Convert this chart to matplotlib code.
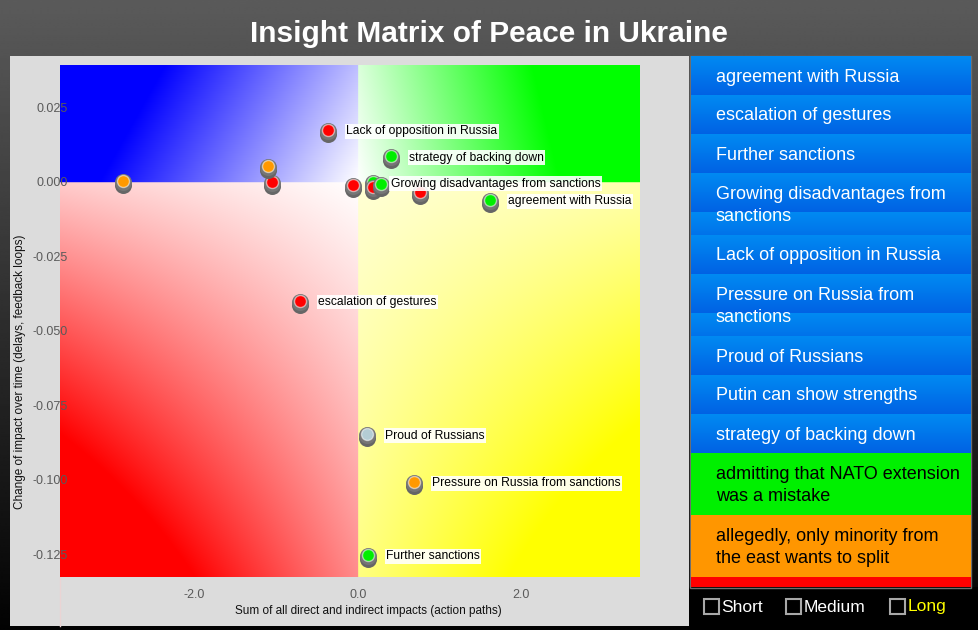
import numpy as np
import matplotlib
matplotlib.use("Agg")
import matplotlib.pyplot as plt
from matplotlib.transforms import offset_copy
from matplotlib.patches import Rectangle
from matplotlib.lines import Line2D

plt.rcParams['font.family'] = ['Liberation Sans', 'DejaVu Sans']
plt.rcParams['axes.unicode_minus'] = False

W, H = 979, 630

# ---------------- data ----------------
title = "Insight Matrix of Peace in Ukraine"
x_label = "Sum of all direct and indirect impacts (action paths)"
y_label = "Change of impact over time (delays, feedback loops)"

pt_x = [-2.878, -1.056, -1.097, -0.065, 0.180, 0.187, 0.278, 0.758,
        -0.363, 0.404, 1.615, -0.709, 0.110, 0.685, 0.122]
pt_y = [0.0002, -0.0002, 0.0053, -0.0010, -0.0002, -0.0017, -0.0008, -0.0034,
        0.0174, 0.0086, -0.0061, -0.0399, -0.0848, -0.1007, -0.1253]
pt_color = ['#ff9900', '#ff0000', '#ff9900', '#ff0000', '#00ee00', '#ff0000', '#00ee00', '#ff0000',
            '#ff0000', '#00ee00', '#00ee00', '#ff0000', '#b4ccd4', '#ff9900', '#00ee00']
pt_label = ["", "", "", "", "Growing disadvantages from sanctions", "", "", "",
            "Lack of opposition in Russia", "strategy of backing down", "agreement with Russia",
            "escalation of gestures", "Proud of Russians", "Pressure on Russia from sanctions",
            "Further sanctions"]

x_ticks = [-2.0, 0.0, 2.0]
x_tick_labels = ["-2.0", "0.0", "2.0"]
y_ticks = [0.025, 0.0, -0.025, -0.05, -0.075, -0.1, -0.125]
y_tick_labels = ["0.025", "0.000", "-0.025", "-0.050", "-0.075", "-0.100", "-0.125"]
x_range = (-3.645, 3.45)
y_range = (-0.1327, 0.0392)

legend_items = ["agreement with Russia", "escalation of gestures", "Further sanctions",
                "Growing disadvantages from\nsanctions", "Lack of opposition in Russia",
                "Pressure on Russia from\nsanctions", "Proud of Russians",
                "Putin can show strengths", "strategy of backing down",
                "admitting that NATO extension\nwas a mistake",
                "allegedly, only minority from\nthe east wants to split", "\n"]
legend_kinds = ['blue'] * 9 + ['green', 'orange', 'red']
checkbox_labels = ["Short", "Medium", "Long"]
checkbox_colors = ["white", "white", "#ffff00"]

# ---------------- figure ----------------
fig = plt.figure(figsize=(W / 100, H / 100), dpi=100)

bg = fig.add_axes([0, 0, 1, 1])
bg.set_zorder(0)
bg.set_xlim(0, W)
bg.set_ylim(H, 0)
bg.axis('off')
g = np.linspace(0.355, 0.01, 300)
bg.imshow(np.repeat(g[:, None], 2, axis=1), cmap='gray', vmin=0, vmax=1,
          extent=[0, W, H, 0], aspect='auto', interpolation='bilinear')
bg.add_patch(Rectangle((10, 56), 679, 570, facecolor='#dcdcdc', edgecolor='none'))
bg.add_line(Line2D([60, 60], [577, 626], color='#ead4d4', lw=1))
bg.text(489, 34, title, color='white', fontsize=21.5, fontweight='bold',
        ha='center', va='center')
bg.text(368, 611, x_label, fontsize=8.5, color='#111111', ha='center', va='center')
bg.text(20, 372, y_label, fontsize=8.5, color='#111111', ha='center', va='center',
        rotation=90)

# ---------------- main matrix ----------------
ax = fig.add_axes([60 / W, 1 - 577 / H, 580 / W, 512 / H])
ax.set_zorder(1)
xmin, xmax = x_range
ymin, ymax = y_range
nx, ny = 500, 450
X, Y = np.meshgrid(np.linspace(xmin, xmax, nx), np.linspace(ymax, ymin, ny))
img = np.ones((ny, nx, 3))
# blue (top-left)
m = (X < 0) & (Y >= 0)
u = X / xmin; v = Y / ymax
t = np.clip((u + 0.22 * v) / 0.87, 0, 1)
img[..., 0] = np.where(m, 1 - t, img[..., 0]); img[..., 1] = np.where(m, 1 - t, img[..., 1])
# green (top-right)
m = (X >= 0) & (Y >= 0)
u = X / xmax; v = Y / ymax
t = np.clip((u + 0.1 * v) / 0.72, 0, 1)
img[..., 0] = np.where(m, 1 - t, img[..., 0]); img[..., 2] = np.where(m, 1 - t, img[..., 2])
# red (bottom-left)
m = (X < 0) & (Y < 0)
u = X / xmin; v = Y / ymin
t = np.clip(0.2 * u + v * (0.45 + 0.8 * u), 0, 1)
img[..., 1] = np.where(m, 1 - t, img[..., 1]); img[..., 2] = np.where(m, 1 - t, img[..., 2])
# yellow (bottom-right)
m = (X >= 0) & (Y < 0)
u = X / xmax; v = Y / ymin
t = np.clip(0.16 + 0.15 * u + v * (0.33 + 0.8 * u), 0, 1)
img[..., 2] = np.where(m, 1 - t, img[..., 2])
ax.imshow(img, extent=[xmin, xmax, ymin, ymax], aspect='auto', interpolation='bilinear',
          zorder=0)
ax.set_xlim(xmin, xmax)
ax.set_ylim(ymin, ymax)
for s in ax.spines.values():
    s.set_visible(False)
ax.set_xticks(x_ticks)
ax.set_xticklabels(x_tick_labels)
ax.set_yticks(y_ticks)
ax.set_yticklabels(y_tick_labels)
ax.tick_params(axis='x', length=0, pad=9, labelsize=9, labelcolor='#5a5a5a')
ax.tick_params(axis='y', length=0, pad=-5.8, labelsize=9, labelcolor='#5a5a5a')

sh1 = offset_copy(ax.transData, fig=fig, x=0, y=-4, units='dots')
sh2 = offset_copy(ax.transData, fig=fig, x=0, y=-1, units='dots')
big = (17 * 0.72) ** 2
small = (12 * 0.72) ** 2
for i, (px, py, c, lab) in enumerate(zip(pt_x, pt_y, pt_color, pt_label)):
    z = 3 + i * 0.01
    ax.scatter([px], [py], s=big, c='#666666', transform=sh1, zorder=z, linewidths=0)
    ax.scatter([px], [py], s=big, c='#767676', transform=sh2, zorder=z + 0.001, linewidths=0)
    ax.scatter([px], [py], s=small, c=c, edgecolors=(1, 1, 1, 0.55), linewidths=1.0,
               zorder=z + 0.002)
    if lab:
        ax.annotate(lab, (px, py), xytext=(13, -1), textcoords='offset points',
                    ha='left', va='center', fontsize=8.7, color='black', zorder=10,
                    bbox=dict(boxstyle='square,pad=0.12', fc='white', ec='none', alpha=0.9))

# ---------------- right panel ----------------
pax = fig.add_axes([691 / W, 1 - 587 / H, 280 / W, 531 / H])
pax.set_zorder(1)
pax.set_xlim(0, 280)
pax.set_ylim(531, 0)
pax.axis('off')
top_c = np.array([0, 138, 242]) / 255
bot_c = np.array([0, 98, 228]) / 255
tile = top_c[None, :] + (bot_c - top_c)[None, :] * np.linspace(0, 1, 39)[:, None]
solid = {'green': '#00f000', 'orange': '#ff9600', 'red': '#ff0000'}
y0 = 0
for lab, kind in zip(legend_items, legend_kinds):
    nlines = lab.count('\n') + 1
    h = 39 if nlines == 1 else 62
    if kind == 'blue':
        rows = tile[np.arange(h) % 39]
        pax.imshow(rows[:, None, :].repeat(2, axis=1), extent=[0, 280, y0 + h, y0],
                   aspect='auto', interpolation='bilinear')
        tc = 'white'
    else:
        pax.add_patch(Rectangle((0, y0), 280, h, facecolor=solid[kind], edgecolor='none'))
        tc = 'black'
    pax.text(25, y0 + h / 2 + 1.5, lab, color=tc, fontsize=13, ha='left', va='center',
             linespacing=1.35)
    y0 += h
pax.set_xlim(0, 280)
pax.set_ylim(531, 0)

bg.add_patch(Rectangle((690.5, 55.5), 281, 532, facecolor='none', edgecolor='#6e6e6e', lw=1,
                       zorder=5))
bg.add_patch(Rectangle((689, 587), 290, 43, facecolor='black', edgecolor='none'))

box_x = [704, 786, 890]
for bx, lab, col in zip(box_x, checkbox_labels, checkbox_colors):
    bg.add_patch(Rectangle((bx, 599), 15, 15, facecolor='black', edgecolor='#a8a8a8', lw=1.5))
    bg.text(bx + 17.5, 607, lab, color=col, fontsize=12.5, ha='left', va='center')

fig.savefig('out.png', dpi=100, facecolor='#3a3a3a')
